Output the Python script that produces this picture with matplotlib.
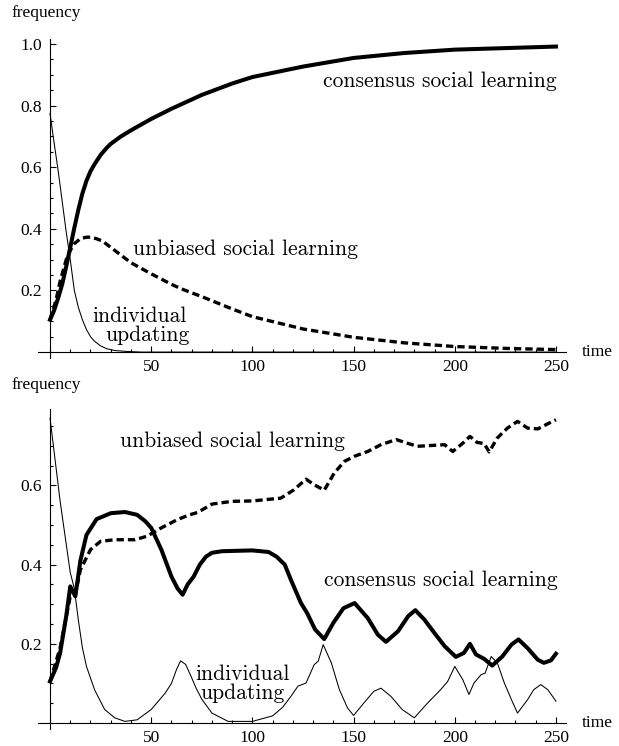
import matplotlib
matplotlib.use("Agg")
import matplotlib.pyplot as plt
from matplotlib.ticker import MultipleLocator, FixedLocator, FormatStrFormatter

# ---- top panel data ----
t_cons_top = [0, 2, 4, 6, 8, 10, 12, 14, 16, 18, 20, 22, 25, 28, 30, 35, 40, 50, 60,
              75, 90, 100, 125, 150, 175, 200, 225, 250]
cons_top = [0.105, 0.135, 0.175, 0.22, 0.278, 0.34, 0.403, 0.462, 0.515, 0.556, 0.587,
            0.61, 0.64, 0.663, 0.676, 0.70, 0.72, 0.757, 0.79, 0.835, 0.872, 0.893,
            0.927, 0.955, 0.971, 0.982, 0.987, 0.992]

t_unb_top = [0, 3, 5, 8, 10, 12, 15, 18, 20, 23, 26, 30, 35, 40, 50, 60, 65, 75, 90,
             100, 125, 150, 175, 200, 225, 250]
unb_top = [0.105, 0.17, 0.23, 0.30, 0.33, 0.352, 0.368, 0.373, 0.373, 0.368, 0.36,
           0.34, 0.315, 0.29, 0.254, 0.22, 0.205, 0.18, 0.14, 0.115, 0.075, 0.048,
           0.03, 0.018, 0.012, 0.008]

t_ind_top = [0, 2, 4, 6, 8, 10, 12, 14, 16, 18, 20, 22, 25, 28, 32, 38, 45, 250]
ind_top = [0.775, 0.68, 0.59, 0.49, 0.39, 0.30, 0.20, 0.145, 0.105, 0.073, 0.05,
           0.035, 0.02, 0.011, 0.005, 0.002, 0.0, 0.0]

# ---- bottom panel data ----
t_cons_bot = [0, 3, 5, 8, 10, 11, 12.5, 15, 18, 23, 30, 37, 43, 47, 50, 55, 60, 63,
              65.5, 68, 71, 74, 77, 80, 85, 100, 108, 112, 116, 119, 124, 127, 131,
              135.5, 140, 145, 150.5, 157, 162, 166, 172, 177, 180.5, 185, 190, 195,
              200.5, 204.5, 207.5, 210.5, 214.5, 218.5, 223.5, 228, 231.5, 236, 241,
              244, 247.5, 250]
cons_bot = [0.105, 0.14, 0.177, 0.27, 0.345, 0.335, 0.32, 0.41, 0.475, 0.515, 0.53,
            0.533, 0.526, 0.51, 0.493, 0.438, 0.37, 0.34, 0.324, 0.35, 0.37, 0.40,
            0.42, 0.43, 0.434, 0.436, 0.432, 0.42, 0.40, 0.362, 0.303, 0.278, 0.236,
            0.212, 0.253, 0.29, 0.303, 0.265, 0.223, 0.205, 0.232, 0.27, 0.285, 0.261,
            0.227, 0.194, 0.167, 0.177, 0.20, 0.173, 0.162, 0.145, 0.168, 0.198,
            0.211, 0.189, 0.16, 0.152, 0.158, 0.175]

t_unb_bot = [0, 5, 10, 12.5, 15, 20, 25, 32, 42, 48, 55, 63, 69, 73, 80, 90, 100,
             110, 114, 120.5, 126.5, 130.5, 135.5, 140.5, 145.5, 150.5, 157, 163.5,
             171, 176.5, 181.5, 188, 195, 199, 204, 207.5, 211, 214.5, 217, 221, 226,
             231, 236, 241, 246, 250]
unb_bot = [0.105, 0.19, 0.32, 0.324, 0.387, 0.438, 0.459, 0.463, 0.463, 0.472, 0.493,
           0.514, 0.526, 0.532, 0.553, 0.56, 0.561, 0.566, 0.568, 0.589, 0.616, 0.602,
           0.588, 0.632, 0.661, 0.674, 0.686, 0.703, 0.716, 0.707, 0.699, 0.701,
           0.703, 0.686, 0.707, 0.724, 0.709, 0.706, 0.685, 0.72, 0.745, 0.762,
           0.745, 0.743, 0.756, 0.766]

t_ind_bot = [0, 5, 10, 12, 14, 16, 18, 22, 27, 32, 37, 43, 50, 57, 60, 62.5, 64.5, 67,
             69.5, 72, 75, 80, 88, 100, 110, 115, 119, 122.5, 126.5, 130.5, 132.5, 135,
             139, 143, 147, 150, 155, 160, 163.5, 168.5, 174, 180, 186.5, 193, 196.5,
             200, 204, 207, 209.5, 213, 215, 218, 221, 224.5, 228, 231, 236, 239,
             242.5, 246, 250]
ind_bot = [0.77, 0.56, 0.38, 0.34, 0.26, 0.19, 0.143, 0.084, 0.034, 0.013, 0.004,
           0.008, 0.034, 0.076, 0.10, 0.135, 0.157, 0.148, 0.12, 0.09, 0.06, 0.025,
           0.004, 0.004, 0.018, 0.04, 0.067, 0.093, 0.101, 0.147, 0.156, 0.198, 0.152,
           0.084, 0.038, 0.019, 0.05, 0.08, 0.088, 0.067, 0.034, 0.013, 0.05, 0.084,
           0.105, 0.143, 0.109, 0.072, 0.101, 0.122, 0.126, 0.168, 0.152, 0.101,
           0.059, 0.025, 0.059, 0.084, 0.097, 0.084, 0.055]

x_ticks = [50, 100, 150, 200, 250]
y_ticks_top = [0.2, 0.4, 0.6, 0.8, 1.0]
y_ticks_bot = [0.2, 0.4, 0.6]

plt.rcParams['font.family'] = ['Liberation Serif', 'DejaVu Serif']
LABEL_FS = 12.5
NOTE_FS = 15.5
NOTE_FONT = 'cmr10'

fig = plt.figure(figsize=(6.19, 7.46), dpi=100)
ax1 = fig.add_axes([0.0612, 0.5198, 0.8533, 0.4277])
ax2 = fig.add_axes([0.0612, 0.0229, 0.8533, 0.4287])


def style_axes(ax, ymin, ymax, yticks):
    ax.set_xlim(-6, 255)
    ax.set_ylim(ymin, ymax)
    for s in ['top', 'right']:
        ax.spines[s].set_visible(False)
    ax.spines['left'].set_position(('data', 0))
    ax.spines['bottom'].set_position(('data', 0))
    ax.spines['left'].set_linewidth(0.8)
    ax.spines['bottom'].set_linewidth(0.8)
    ax.xaxis.set_major_locator(FixedLocator(x_ticks))
    ax.xaxis.set_minor_locator(MultipleLocator(10))
    ax.yaxis.set_major_locator(FixedLocator(yticks))
    ax.yaxis.set_minor_locator(MultipleLocator(0.05))
    ax.yaxis.set_major_formatter(FormatStrFormatter('%.1f'))
    ax.tick_params(which='both', direction='in', width=0.8, labelsize=LABEL_FS)
    ax.tick_params(which='major', length=4)
    ax.tick_params(which='minor', length=2.5)
    ax.tick_params(axis='x', pad=5)
    ax.tick_params(axis='y', pad=6)
    ax.patch.set_alpha(0)
    ax.text(263, 0, 'time', ha='left', va='center', fontsize=LABEL_FS, clip_on=False)


def draw(ax, tc, c, tu, u, ti, i):
    ax.plot(ti, i, color='black', lw=0.75)
    ax.plot(tu, u, color='black', lw=2.4, dashes=(2.2, 1.2), dash_capstyle='butt')
    ax.plot(tc, c, color='black', lw=2.9, solid_joinstyle='round')


style_axes(ax1, -0.02, 1.016, y_ticks_top)
draw(ax1, t_cons_top, cons_top, t_unb_top, unb_top, t_ind_top, ind_top)
ax1.text(250.5, 0.86, 'consensus social learning', ha='right', va='baseline',
         fontsize=NOTE_FS, family=NOTE_FONT)
ax1.text(41, 0.316, 'unbiased social learning', ha='left', va='baseline',
         fontsize=NOTE_FS, family=NOTE_FONT)
ax1.text(44.3, 0.097, 'individual', ha='center', va='baseline',
         fontsize=NOTE_FS, family=NOTE_FONT)
ax1.text(47.9, 0.035, 'updating', ha='center', va='baseline',
         fontsize=NOTE_FS, family=NOTE_FONT)

style_axes(ax2, -0.015, 0.793, y_ticks_bot)
draw(ax2, t_cons_bot, cons_bot, t_unb_bot, unb_bot, t_ind_bot, ind_bot)
ax2.text(250.8, 0.345, 'consensus social learning', ha='right', va='baseline',
         fontsize=NOTE_FS, family=NOTE_FONT)
ax2.text(34.7, 0.698, 'unbiased social learning', ha='left', va='baseline',
         fontsize=NOTE_FS, family=NOTE_FONT)
ax2.text(95.2, 0.109, 'individual', ha='center', va='baseline',
         fontsize=NOTE_FS, family=NOTE_FONT)
ax2.text(95.0, 0.06, 'updating', ha='center', va='baseline',
         fontsize=NOTE_FS, family=NOTE_FONT)

fig.text(12 / 619, 1 - 13 / 746, 'frequency', ha='left', va='center', fontsize=LABEL_FS)
fig.text(12 / 619, 1 - 385 / 746, 'frequency', ha='left', va='center', fontsize=LABEL_FS)

plt.savefig('out.png', dpi=100)
